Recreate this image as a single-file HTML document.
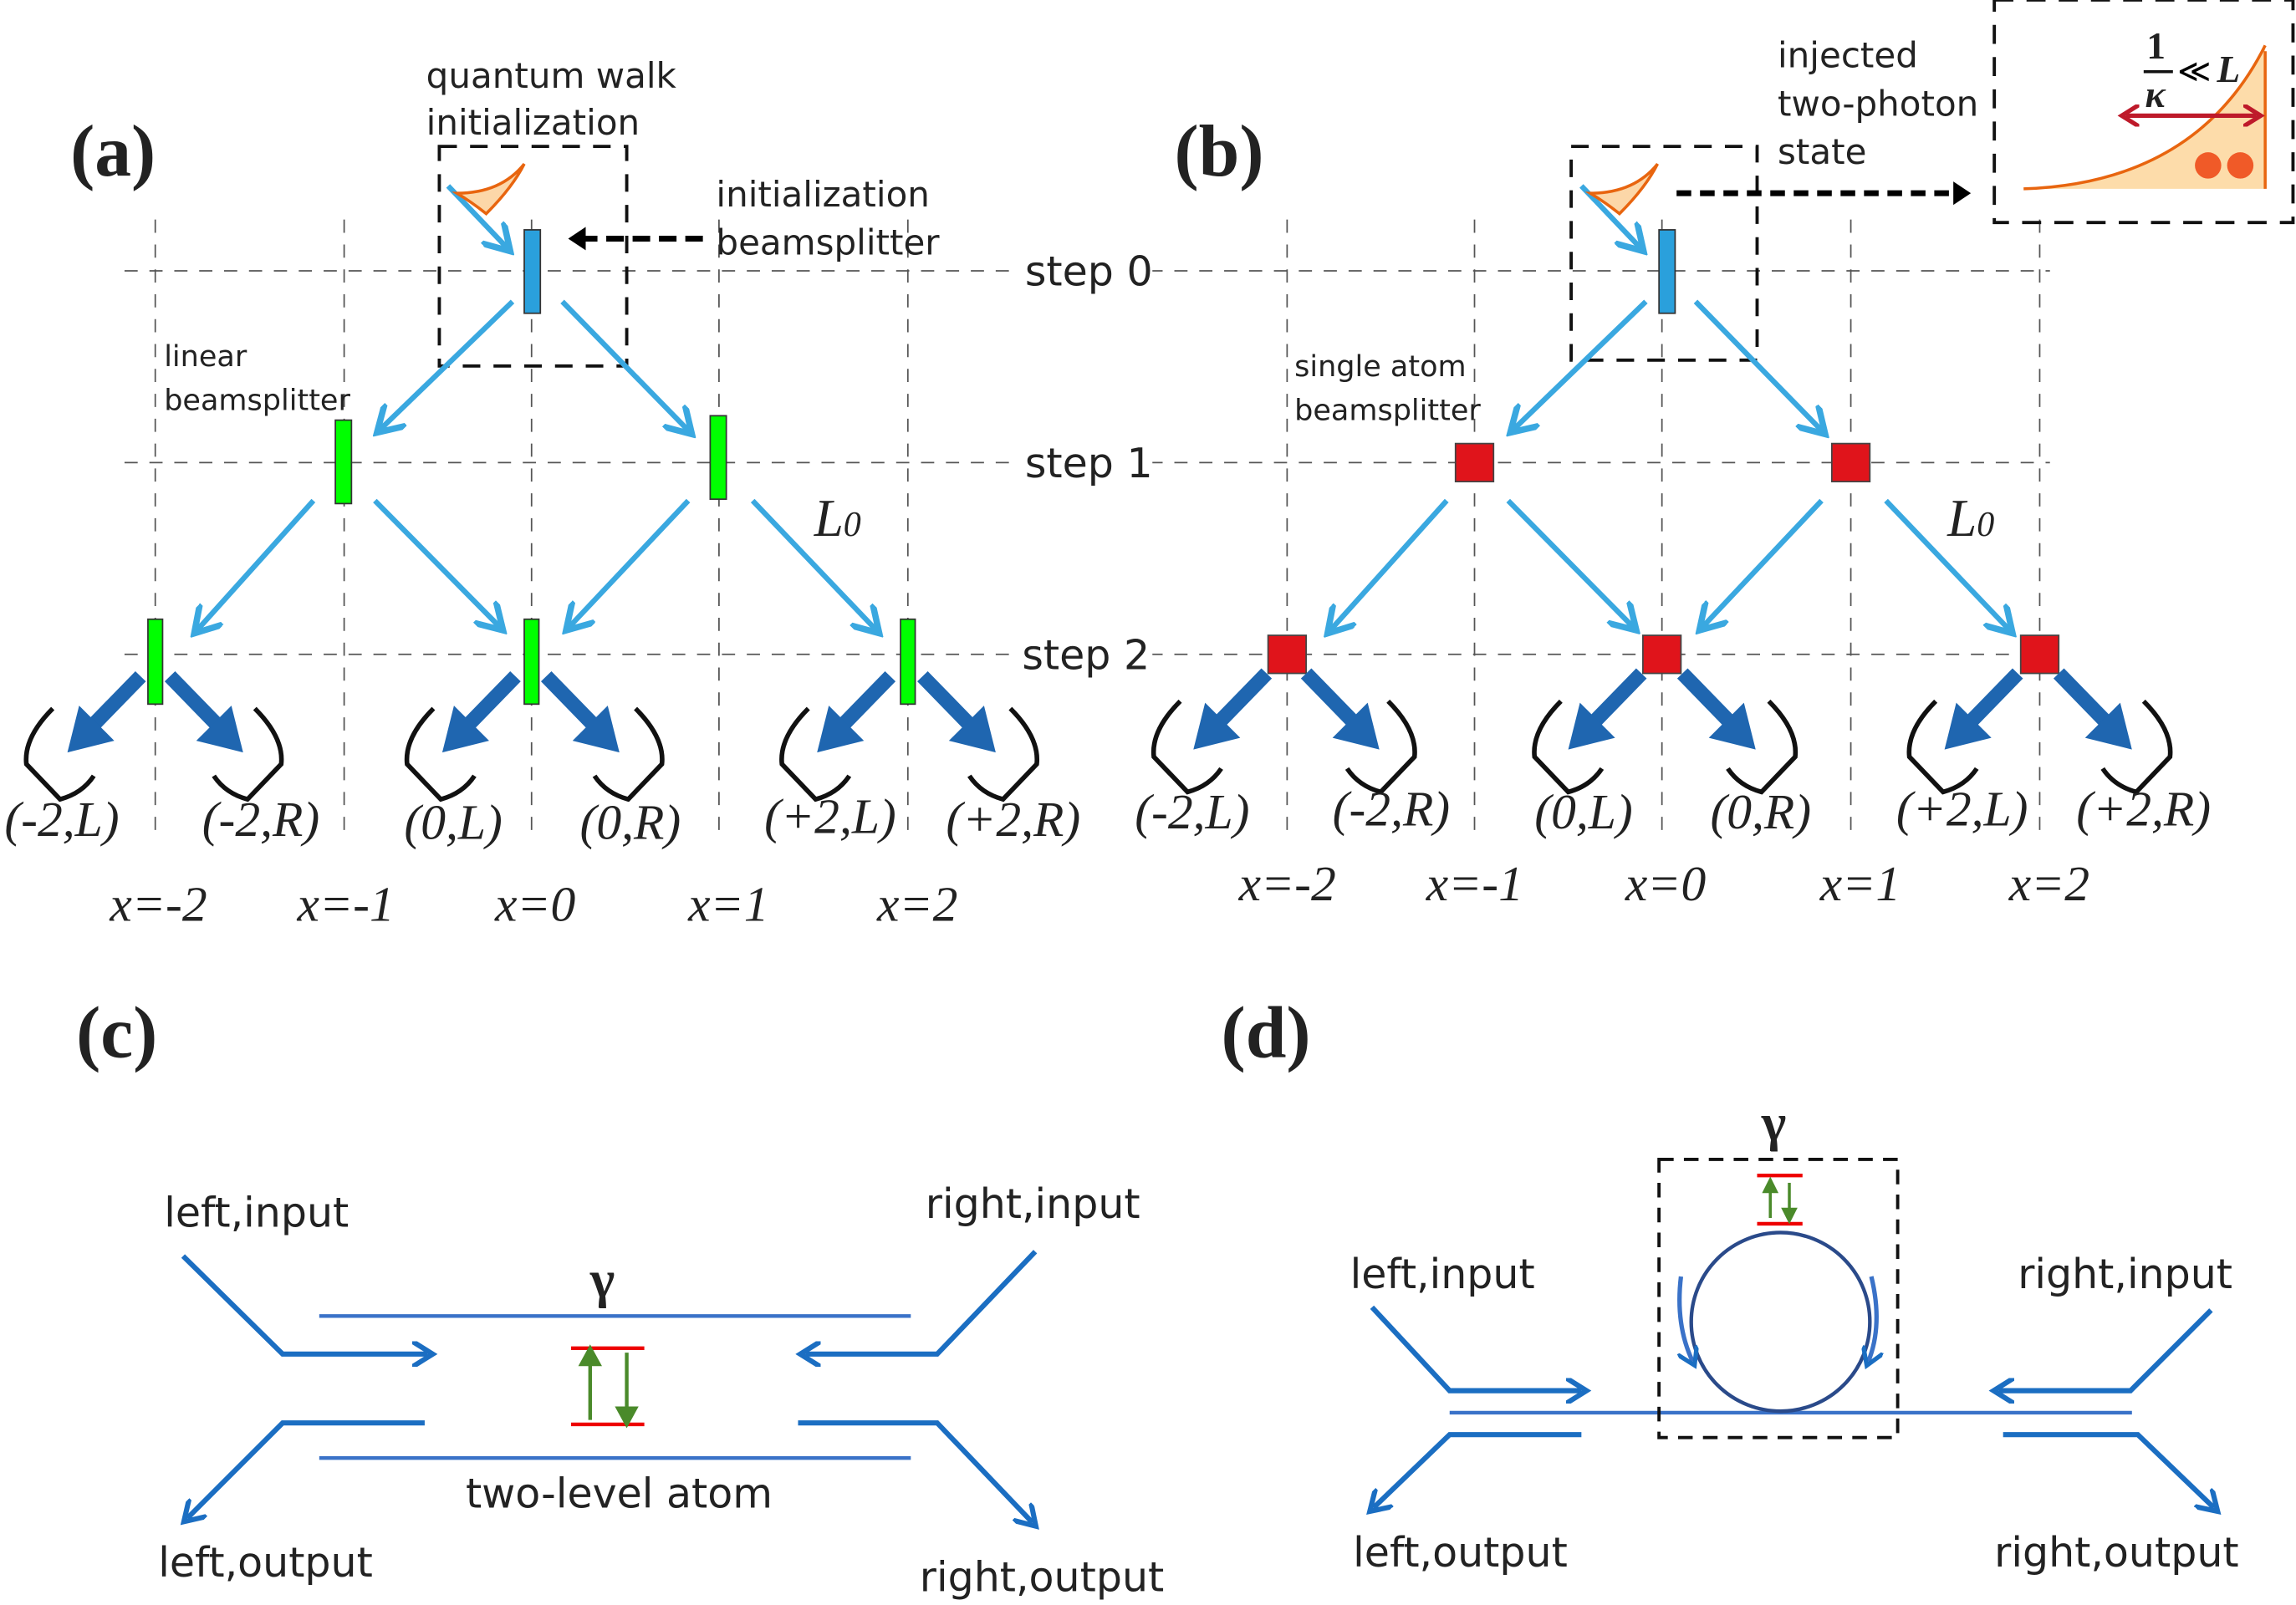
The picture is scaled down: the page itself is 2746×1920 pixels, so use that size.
<!DOCTYPE html>
<html><head><meta charset="utf-8"><style>
html,body{margin:0;padding:0;background:#fff}
svg{display:block}
.s{font-family:"DejaVu Sans","Liberation Sans",sans-serif;fill:#222}
.i{font-family:"Liberation Serif",serif;font-style:italic;fill:#222}
.b{font-family:"Liberation Serif",serif;font-weight:bold;fill:#222}
</style></head><body>
<svg width="2746" height="1920" viewBox="0 0 1568 1096.4" xmlns="http://www.w3.org/2000/svg">
<defs>
<marker id="la" markerWidth="6" markerHeight="6" refX="4" refY="3" orient="auto" markerUnits="strokeWidth"><path d="M0,0 L5,3 L0,6" fill="none" stroke="#3aa8e0" stroke-width="1.2"/></marker>
<marker id="ba" markerWidth="5" markerHeight="5" refX="3" refY="2.5" orient="auto" markerUnits="strokeWidth"><path d="M0,0 L4,2.5 L0,5" fill="none" stroke="#1b6ec2" stroke-width="1"/></marker>
<marker id="ka" markerWidth="4" markerHeight="4" refX="2" refY="2" orient="auto" markerUnits="strokeWidth"><path d="M0,0 L3,2 L0,4 Z" fill="#000"/></marker>
<marker id="ra" markerWidth="5" markerHeight="5" refX="3" refY="2.5" orient="auto-start-reverse" markerUnits="strokeWidth"><path d="M0,0 L4,2.5 L0,5" fill="none" stroke="#be1a2a" stroke-width="1"/></marker>
<g id="bigL"><path d="M0,0 L-36,37" stroke="#1f66b0" stroke-width="10"/><path d="M-50,52 L-42,20 L-18,44 Z" fill="#1f66b0"/></g>
<g id="bigR"><path d="M0,0 L36,37" stroke="#1f66b0" stroke-width="10"/><path d="M50,52 L42,20 L18,44 Z" fill="#1f66b0"/></g>
<g id="brkL"><path d="M10,-28 Q-10,-8 -8,10 L15,34 Q30,30 38,18" fill="none" stroke="#111" stroke-width="3.2"/></g>
<g id="brkR"><path d="M-10,-28 Q10,-8 8,10 L-15,34 Q-30,30 -38,18" fill="none" stroke="#111" stroke-width="3.2"/></g>
<g id="tree">
<g stroke="#3aa8e0" stroke-width="3.6" fill="none" marker-end="url(#la)">
<path d="M306,127 L346,169"/><path d="M350,206 L260,293"/><path d="M384,206 L470,294"/>
<path d="M214,342 L135,430"/><path d="M256,342 L341,428"/><path d="M470,342 L389,428"/><path d="M514,342 L598,430"/>
</g>
<path d="M312,132 Q342,132 358,112 Q350,128 332,146 Q322,138 312,132Z" fill="#fcd7a8" stroke="#e8650f" stroke-width="2"/>
</g>
</defs>

<g stroke="#555" stroke-width="1" stroke-dasharray="9,8">
<path d="M106,150V575M235,150V575M363,150V575M491,150V575M620,150V575"/>
<path d="M85,185H690M85,316H690M85,447H690"/>
<path d="M879,150V575M1007,150V575M1135,150V575M1264,150V575M1393,150V575"/>
<path d="M785,185H1400M785,316H1400M785,447H1400"/>
</g>
<g fill="#fff"><rect x="695" y="165" width="92" height="40"/><rect x="695" y="296" width="92" height="40"/><rect x="693" y="427" width="94" height="40"/></g>
<text class="s" x="700" y="195" font-size="28">step 0</text>
<text class="s" x="700" y="326" font-size="28">step 1</text>
<text class="s" x="698" y="457" font-size="28">step 2</text>

<!-- (a) -->
<text class="b" x="48" y="120" font-size="50">(a)</text>
<text class="s" x="291" y="60" font-size="24">quantum walk</text>
<text class="s" x="291" y="92" font-size="24">initialization</text>
<text class="s" x="489" y="141" font-size="24">initialization</text>
<text class="s" x="489" y="174" font-size="24">beamsplitter</text>
<text class="s" x="112" y="250" font-size="20">linear</text>
<text class="s" x="112" y="280" font-size="20">beamsplitter</text>
<rect x="300" y="100" width="128" height="150" fill="none" stroke="#111" stroke-width="2.2" stroke-dasharray="12,9"/>
<path d="M480,163 H392" stroke="#000" stroke-width="4" stroke-dasharray="12,6" marker-end="url(#ka)"/>
<use href="#tree"/>
<rect x="358" y="157" width="11" height="57" fill="#2aa0dc" stroke="#333"/>
<g fill="#0f0" stroke="#333"><rect x="229" y="287" width="11" height="57"/><rect x="485" y="284" width="11" height="57"/><rect x="101" y="423" width="10" height="58"/><rect x="358" y="423" width="10" height="58"/><rect x="615" y="423" width="10" height="58"/></g>
<text class="i" x="556" y="366" font-size="36">L<tspan font-size="24">0</tspan></text>
<use href="#bigL" x="96" y="462"/><use href="#bigR" x="116" y="462"/>
<use href="#bigL" x="352" y="462"/><use href="#bigR" x="373" y="462"/>
<use href="#bigL" x="608" y="462"/><use href="#bigR" x="630" y="462"/>
<use href="#brkL" x="26" y="512"/><use href="#brkR" x="184" y="512"/>
<use href="#brkL" x="286" y="512"/><use href="#brkR" x="444" y="512"/>
<use href="#brkL" x="542" y="512"/><use href="#brkR" x="700" y="512"/>
<g class="i" font-size="34">
<text x="3" y="571">(-2,L)</text><text x="138" y="571">(-2,R)</text><text x="276" y="573">(0,L)</text><text x="396" y="573">(0,R)</text><text x="522" y="569">(+2,L)</text><text x="646" y="571">(+2,R)</text>
<text x="75" y="629">x=-2</text><text x="203" y="629">x=-1</text><text x="338" y="629">x=0</text><text x="470" y="629">x=1</text><text x="599" y="629">x=2</text>
</g>

<!-- (b) -->
<text class="b" x="802" y="120" font-size="50">(b)</text>
<text class="s" x="1214" y="46" font-size="24">injected</text>
<text class="s" x="1214" y="79" font-size="24">two-photon</text>
<text class="s" x="1214" y="112" font-size="24">state</text>
<text class="s" x="884" y="257" font-size="20">single atom</text>
<text class="s" x="884" y="287" font-size="20">beamsplitter</text>
<rect x="1073" y="100" width="127" height="146" fill="none" stroke="#111" stroke-width="2.2" stroke-dasharray="12,9"/>
<path d="M1145,132 H1342" stroke="#000" stroke-width="4" stroke-dasharray="10,6" marker-end="url(#ka)"/>
<use href="#tree" x="774"/>
<rect x="1133" y="157" width="11" height="57" fill="#2aa0dc" stroke="#333"/>
<g fill="#e0141b" stroke="#444"><rect x="994" y="303" width="26" height="26"/><rect x="1251" y="303" width="26" height="26"/><rect x="866" y="434" width="26" height="26"/><rect x="1122" y="434" width="26" height="26"/><rect x="1380" y="434" width="26" height="26"/></g>
<text class="i" x="1330" y="366" font-size="36">L<tspan font-size="24">0</tspan></text>
<use href="#bigL" x="865" y="460"/><use href="#bigR" x="892" y="460"/>
<use href="#bigL" x="1121" y="460"/><use href="#bigR" x="1149" y="460"/>
<use href="#bigL" x="1378" y="460"/><use href="#bigR" x="1406" y="460"/>
<use href="#brkL" x="796" y="507"/><use href="#brkR" x="958" y="507"/>
<use href="#brkL" x="1056" y="507"/><use href="#brkR" x="1218" y="507"/>
<use href="#brkL" x="1312" y="507"/><use href="#brkR" x="1474" y="507"/>
<g class="i" font-size="34">
<text x="775" y="566">(-2,L)</text><text x="910" y="564">(-2,R)</text><text x="1048" y="566">(0,L)</text><text x="1168" y="566">(0,R)</text><text x="1295" y="564">(+2,L)</text><text x="1418" y="564">(+2,R)</text>
<text x="846" y="615">x=-2</text><text x="974" y="615">x=-1</text><text x="1110" y="615">x=0</text><text x="1243" y="615">x=1</text><text x="1372" y="615">x=2</text>
</g>
<!-- inset -->
<rect x="1362" y="0" width="204" height="152" fill="none" stroke="#111" stroke-width="2.2" stroke-dasharray="13,9"/>
<path d="M1382,129 Q1500,125 1547,31 L1547,129 Z" fill="#fddcaa"/>
<path d="M1382,129 Q1500,125 1547,31 M1547,35 V129" fill="none" stroke="#e8650f" stroke-width="2"/>
<circle cx="1508" cy="113" r="9" fill="#f05a28"/><circle cx="1530" cy="113" r="9" fill="#f05a28"/>
<path d="M1452,79 H1541" stroke="#be1a2a" stroke-width="3" marker-start="url(#ra)" marker-end="url(#ra)"/>
<text class="b" x="1466" y="40" font-size="26">1</text><path d="M1464,49 H1484" stroke="#111" stroke-width="2"/>
<text class="b" x="1465" y="73" font-size="26" font-style="italic">κ</text>
<text x="1487" y="56" font-size="22" font-family="DejaVu Sans">≪</text>
<text class="b" x="1514" y="56" font-size="26" font-style="italic">L</text>

<!-- (c) -->
<text class="b" x="52" y="722" font-size="50">(c)</text>
<g stroke="#3a72c8" stroke-width="2.5"><path d="M218,899H622M218,996H622"/></g>
<g stroke="#1b6ec2" stroke-width="3.5" fill="none">
<path d="M125,858 L193,925 H292" marker-end="url(#ba)"/>
<path d="M290,972 H193 L128,1037" marker-end="url(#ba)"/>
<path d="M707,855 L640,925 H550" marker-end="url(#ba)"/>
<path d="M545,972 H640 L705,1040" marker-end="url(#ba)"/>
</g>
<path d="M390,921H440M390,973H440" stroke="#e00" stroke-width="2.5"/>
<g stroke="#4a8a2a" stroke-width="2.5" fill="#4a8a2a"><path d="M403,970V930"/><path d="M397,932L403,921L409,932Z"/><path d="M428,924V964"/><path d="M422,962L428,973L434,962Z"/></g>
<text class="b" x="403" y="886" font-size="36">γ</text>
<text class="s" x="318" y="1030" font-size="28">two-level atom</text>
<text class="s" x="112" y="838" font-size="28">left,input</text>
<text class="s" x="632" y="832" font-size="28">right,input</text>
<text class="s" x="108" y="1077" font-size="28">left,output</text>
<text class="s" x="628" y="1087" font-size="28">right,output</text>

<!-- (d) -->
<text class="b" x="834" y="722" font-size="50">(d)</text>
<path d="M990,965H1456" stroke="#3a72c8" stroke-width="2.5"/>
<circle cx="1216" cy="903" r="61" fill="none" stroke="#2a4a8a" stroke-width="2.5"/>
<path d="M1148,872 Q1144,905 1156,930" fill="none" stroke="#3a72c8" stroke-width="3" marker-end="url(#ba)"/>
<path d="M1278,872 Q1286,905 1276,930" fill="none" stroke="#3a72c8" stroke-width="3" marker-end="url(#ba)"/>
<rect x="1133" y="792" width="163" height="190" fill="none" stroke="#111" stroke-width="2.2" stroke-dasharray="10,7"/>
<path d="M1200,803H1231M1200,836H1231" stroke="#e00" stroke-width="2.5"/>
<g stroke="#4a8a2a" stroke-width="2" fill="#4a8a2a"><path d="M1209,832V812"/><path d="M1205,814L1209,806L1213,814Z"/><path d="M1222,808V828"/><path d="M1218,826L1222,834L1226,826Z"/></g>
<text class="b" x="1203" y="779" font-size="36">γ</text>
<g stroke="#1b6ec2" stroke-width="3.5" fill="none">
<path d="M937,893 L990,950 H1080" marker-end="url(#ba)"/>
<path d="M1080,980 H990 L938,1030" marker-end="url(#ba)"/>
<path d="M1510,895 L1455,950 H1365" marker-end="url(#ba)"/>
<path d="M1368,980 H1460 L1512,1030" marker-end="url(#ba)"/>
</g>
<text class="s" x="922" y="880" font-size="28">left,input</text>
<text class="s" x="1378" y="880" font-size="28">right,input</text>
<text class="s" x="924" y="1070" font-size="28">left,output</text>
<text class="s" x="1362" y="1070" font-size="28">right,output</text>
</svg>
</body></html>
